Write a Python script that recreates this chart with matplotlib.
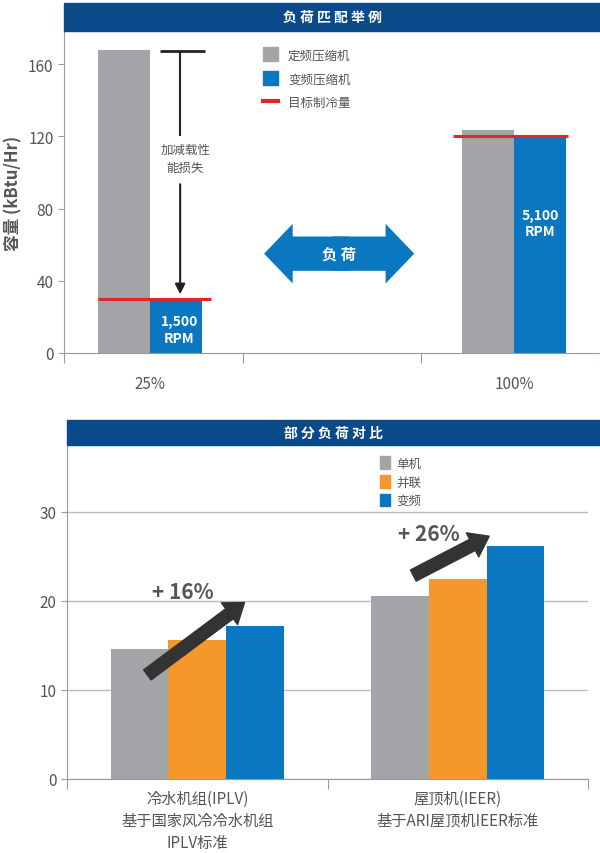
import matplotlib
matplotlib.use("Agg")
import matplotlib.pyplot as plt
from matplotlib.patches import Rectangle, FancyArrow
from matplotlib import font_manager as fm

names = {f.name for f in fm.fontManager.ttflist}
cjk = [n for n in ['Noto Sans CJK SC', 'Noto Sans CJK JP', 'Noto Sans CJK TC', 'Noto Sans CJK KR'] if n in names]
plt.rcParams['font.family'] = cjk + ['DejaVu Sans']

# top chart data
top_cats = ["25%", "100%"]
top_fixed = [168, 123.5]
top_var = [30, 120]
top_target = [30, 120]
top_rpm = ["1,500\nRPM", "5,100\nRPM"]
top_yticks = [0, 40, 80, 120, 160]

# bottom chart data
bot_cats = ["冷水机组(IPLV)\n基于国家风冷冷水机组\nIPLV标准", "屋顶机(IEER)\n基于ARI屋顶机IEER标准"]
bot_single = [14.6, 20.6]
bot_parallel = [15.6, 22.4]
bot_var = [17.2, 26.2]
bot_yticks = [0, 10, 20, 30]

GRAY = '#a2a4a7'; BLUE = '#0b77c0'; ORANGE = '#f5972b'; RED = '#e0262b'
BAR = '#0b4a89'; TXT = '#555555'; AX = '#999999'

W, H = 600, 854
fig = plt.figure(figsize=(6, 8.54), dpi=100)

def fa(l, t, r, b):
    return [l / W, (H - b) / H, (r - l) / W, (b - t) / H]

def titlebar(l, t, r, b, text):
    fig.patches.append(Rectangle((l / W, (H - b) / H), (r - l) / W, (b - t) / H,
                                 transform=fig.transFigure, color=BAR, zorder=5))
    fig.text((l + r) / 2 / W, (H - (t + b) / 2) / H, " ".join(text), color='white',
             ha='center', va='center', fontsize=10, fontweight='bold', zorder=6)

# ---------- top ----------
ax = fig.add_axes(fa(64, 32, 600, 354))
ax.set_xlim(0, 3); ax.set_ylim(0, 178.3)
tx = [0.48, 2.52]
w = 0.29
for i in range(2):
    ax.bar(tx[i] - w / 2, top_fixed[i], w, color=GRAY, zorder=2)
    ax.bar(tx[i] + w / 2, top_var[i], w, color=BLUE, zorder=2)
    ax.hlines(top_target[i], tx[i] - w - (0.05 if i else 0), tx[i] + w + (0.05 if i == 0 else 0.01),
              color=RED, lw=2.2, zorder=3)
    ax.text(tx[i] + w / 2 + (0.02 if i == 0 else 0), top_var[i] - (17 if i == 0 else 48),
            top_rpm[i], color='white', fontsize=10, fontweight='bold', ha='center', va='center', zorder=4)
    ax.text(tx[i], -12, top_cats[i], ha='center', va='top', fontsize=11, color=TXT)
ax.set_xticks([0, 1, 2, 3]); ax.set_xticklabels([])
ax.set_yticks(top_yticks)
ax.tick_params(axis='x', direction='out', length=7, color=AX)
ax.tick_params(axis='y', length=4, color=AX, labelsize=11, labelcolor=TXT)
for s in ['top', 'right']:
    ax.spines[s].set_visible(False)
ax.spines['left'].set_color(AX); ax.spines['bottom'].set_color(AX)
ax.set_ylabel("容量 (kBtu/Hr)", fontsize=12, fontweight='bold', color=TXT)
# loss arrow
xa = 0.65
ax.hlines(top_fixed[0] - 1, 0.54, 0.79, color='#222222', lw=2, zorder=4)
ax.vlines(xa, 120, top_fixed[0] - 1, color='#222222', lw=1.5, zorder=4)
ax.annotate("", xy=(xa, top_target[0] + 1), xytext=(xa, 95),
            arrowprops=dict(arrowstyle='-|>', color='#222222', lw=1.5, mutation_scale=15), zorder=4)
ax.text(xa + 0.03, 108, "加减载性\n能损失", ha='center', va='center', fontsize=9, color=TXT, linespacing=1.5)
# double arrow
ax.add_patch(FancyArrow(1.50, 55, 0.46, 0, width=19, head_width=33, head_length=0.16,
                        length_includes_head=True, color=BLUE, lw=0, zorder=3))
ax.add_patch(FancyArrow(1.60, 55, -0.48, 0, width=19, head_width=33, head_length=0.16,
                        length_includes_head=True, color=BLUE, lw=0, zorder=3))
ax.text(1.54, 55, "负 荷", color='white', fontsize=11, fontweight='bold', ha='center', va='center', zorder=4)
# legend
hs = [Rectangle((0, 0), 1, 1, color=GRAY), Rectangle((0, 0), 1, 1, color=BLUE),
      plt.Line2D([], [], color=RED, lw=3)]
ax.legend(hs, ["定频压缩机", "变频压缩机", "目标制冷量"], loc='upper left', bbox_to_anchor=(0.35, 0.985),
          frameon=False, fontsize=9, labelcolor=TXT, handlelength=1.2, handleheight=1.3, labelspacing=0.8)
titlebar(64, 4, 600, 32, "负荷匹配举例")

# ---------- bottom ----------
bx = fig.add_axes(fa(67, 446, 588, 780))
bx.set_xlim(0, 2); bx.set_ylim(0, 37.5)
bw = 0.222
cx = [0.5, 1.5]
for i in range(2):
    bx.bar(cx[i] - bw, bot_single[i], bw, color=GRAY, zorder=2)
    bx.bar(cx[i], bot_parallel[i], bw, color=ORANGE, zorder=2)
    bx.bar(cx[i] + bw, bot_var[i], bw, color=BLUE, zorder=2)
    bx.text(cx[i], -1.2, bot_cats[i], ha='center', va='top', fontsize=11, color=TXT, linespacing=1.4)
bx.set_xticks([0, 1, 2]); bx.set_xticklabels([])
bx.set_yticks(bot_yticks)
bx.grid(axis='y', color='#bbbbbb', lw=1, zorder=0)
bx.tick_params(axis='x', direction='out', length=7, color=AX)
bx.tick_params(axis='y', length=4, color=AX, labelsize=11, labelcolor=TXT)
for s in ['top', 'right']:
    bx.spines[s].set_visible(False)
bx.spines['left'].set_color(AX); bx.spines['bottom'].set_color(AX)
for (x0, y0, x1, y1, lab, lx, ly) in [(0.30, 11.5, 0.69, 20.0, "+ 16%", 0.445, 21.0),
                                      (1.32, 22.7, 1.63, 27.4, "+ 26%", 1.39, 27.6)]:
    bx.annotate("", xy=(x1, y1), xytext=(x0, y0),
                arrowprops=dict(arrowstyle='simple,head_width=1.3,head_length=0.9,tail_width=0.6',
                                color='#333333', mutation_scale=15), zorder=4)
    bx.text(lx, ly, lab, ha='center', va='center', fontsize=15, fontweight='bold', color='#555555')
hs2 = [Rectangle((0, 0), 1, 1, color=c) for c in (GRAY, ORANGE, BLUE)]
bx.legend(hs2, ["单机", "并联", "变频"], loc='upper left', bbox_to_anchor=(0.58, 1.0),
          frameon=False, fontsize=9, labelcolor=TXT, handlelength=0.8, handleheight=1.2,
          labelspacing=0.4, handletextpad=0.5)
titlebar(67, 421, 600, 446, "部分负荷对比")

fig.savefig("out.png", dpi=100, facecolor='white')
